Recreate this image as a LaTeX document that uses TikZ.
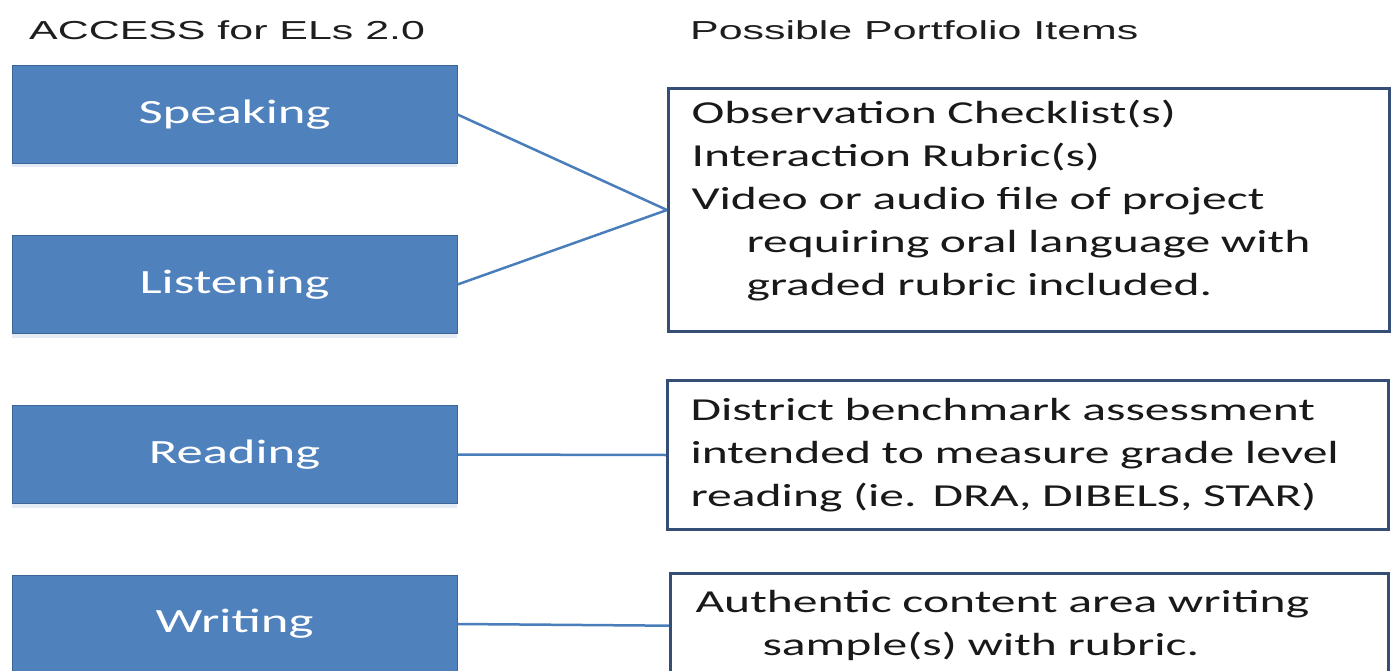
\documentclass[tikz,border=0pt]{standalone}
\usepackage{fontspec}
\setmainfont{Carlito}[FakeStretch=1.55]
\newfontfamily\headfont{Liberation Sans}[FakeStretch=1.65]
\usetikzlibrary{shadows}
\definecolor{skillblue}{RGB}{79,129,189}
\definecolor{skillline}{RGB}{62,101,152}
\definecolor{itemline}{RGB}{52,78,118}
\definecolor{linkblue}{RGB}{74,126,187}
\definecolor{headgray}{RGB}{30,30,30}
\tikzset{
	headtext/.style={inner sep=0pt, text=headgray, font=\headfont\fontsize{26}{30}\selectfont},
	skillbox/.style={rectangle, fill=skillblue, draw=skillline, line width=1pt, minimum width=445, minimum height=98, text=white, font=\fontsize{34}{40}\selectfont, drop shadow={fill=skillblue!60, opacity=.25, shadow xshift=0pt, shadow yshift=-4pt}},
	itembox/.style={rectangle, draw=itemline, line width=3pt, fill=white, anchor=north west, inner xsep=23pt, text width=675pt, align=left, text=black!90, font=\fontsize{32}{43}\selectfont},
	link/.style={draw=linkblue, line width=2.5pt}
}
\begin{document}
\begin{tikzpicture}[x=1pt, y=-1pt]
	\useasboundingbox (0,0) rectangle (1394,671);
	\fill[white] (0,0) rectangle (1394,671);
	\node[headtext, anchor=west] (heading1) at (29,30) {ACCESS for ELs 2.0};
	\node[headtext, anchor=west] (heading2) at (690,30) {Possible Portfolio Items};
	\foreach \skill/\ypos [count=\xi] in {Speaking/114.5, Listening/284.5, Reading/454.5, Writing/624}
		{
			\node[skillbox] (skill\xi) at (234.5,\ypos) {\skill};
		}
	\node[itembox, minimum width=721, minimum height=243, text depth=196pt] (item1) at (667,87) {Observation Checklist(s)\\ Interaction Rubric(s)\\ Video or audio file of project\\ \hspace*{55pt}requiring oral language with\\ \hspace*{55pt}graded rubric included.};
	\node[itembox, minimum width=721, minimum height=149] (item2) at (666,379) {District benchmark assessment\\ intended to measure grade level\\ reading (ie. DRA, DIBELS, STAR)};
	\node[itembox, inner xsep=25pt, inner ysep=17pt, text width=668pt] (item3) at (669,572) {Authentic content area writing\\ \hspace*{67pt}sample(s) with rubric.};
	\foreach \x/\y in {1/1, 2/1, 3/2, 4/3}
		{
			\draw[link] (skill\x.east) -- (item\y.west);
		}
\end{tikzpicture}
\end{document}
